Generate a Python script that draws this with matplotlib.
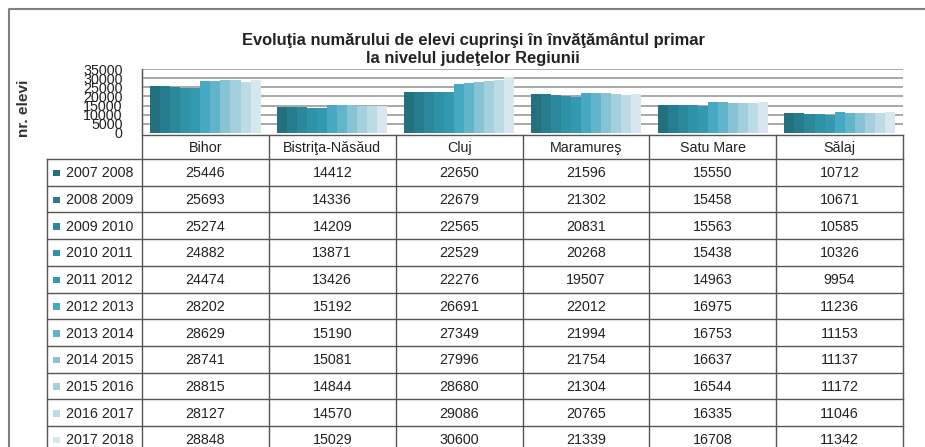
import matplotlib
matplotlib.use('Agg')
import matplotlib.pyplot as plt
from matplotlib import font_manager
import numpy as np

# data
judete = ['Bihor', 'Bistriţa-Năsăud', 'Cluj', 'Maramureş', 'Satu Mare', 'Sălaj']
ani = ['2007 2008', '2008 2009', '2009 2010', '2010 2011', '2011 2012', '2012 2013',
       '2013 2014', '2014 2015', '2015 2016', '2016 2017', '2017 2018']
v2007 = [25446, 14412, 22650, 21596, 15550, 10712]
v2008 = [25693, 14336, 22679, 21302, 15458, 10671]
v2009 = [25274, 14209, 22565, 20831, 15563, 10585]
v2010 = [24882, 13871, 22529, 20268, 15438, 10326]
v2011 = [24474, 13426, 22276, 19507, 14963, 9954]
v2012 = [28202, 15192, 26691, 22012, 16975, 11236]
v2013 = [28629, 15190, 27349, 21994, 16753, 11153]
v2014 = [28741, 15081, 27996, 21754, 16637, 11137]
v2015 = [28815, 14844, 28680, 21304, 16544, 11172]
v2016 = [28127, 14570, 29086, 20765, 16335, 11046]
v2017 = [28848, 15029, 30600, 21339, 16708, 11342]
serii = [v2007, v2008, v2009, v2010, v2011, v2012, v2013, v2014, v2015, v2016, v2017]
y_ticks = [0, 5000, 10000, 15000, 20000, 25000, 30000, 35000]

culori = ['#23707f', '#277d8e', '#2a889a', '#2e93a6', '#3399b0', '#46a8c2',
          '#62b4cb', '#85c3d5', '#a4d0de', '#bddbe6', '#d6e7ee']

names = {f.name for f in font_manager.fontManager.ttflist}
if 'Liberation Sans Narrow' in names:
    fam = 'Liberation Sans Narrow'
    k = 1.0
else:
    fam = 'Liberation Sans'
    k = 0.82
plt.rcParams['font.family'] = [fam, 'DejaVu Sans']

W, H = 925, 447
fig = plt.figure(figsize=(W / 100, H / 100), dpi=100)
fig.patch.set_facecolor('white')

# overlay in pixel coords
ov = fig.add_axes([0, 0, 1, 1])
ov.set_xlim(0, W)
ov.set_ylim(H, 0)
ov.axis('off')
ov.patch.set_alpha(0)

# outer frame
ov.plot([9, 9, W + 5], [H + 5, 9, 9], color='#7f7f7f', lw=1.5)

# title + y label
ov.text(473, 41, 'Evoluţia numărului de elevi cuprinşi în învăţământul primar',
        ha='center', va='center', fontsize=14.5 * k, fontweight='bold', color='#222222')
ov.text(473, 59, 'la nivelul judeţelor Regiunii',
        ha='center', va='center', fontsize=14.5 * k, fontweight='bold', color='#222222')
ov.text(24, 108, 'nr. elevi', rotation=90, ha='center', va='center',
        fontsize=13.5 * k, fontweight='bold', color='#333333')

# bar chart
x0, x1, ytop, ybot = 142, 903, 69, 133
ax = fig.add_axes([x0 / W, 1 - ybot / H, (x1 - x0) / W, (ybot - ytop) / H])
ax.set_xlim(-0.5, len(judete) - 0.5)
ax.set_ylim(0, 35000)
n = len(serii)
bw = (1 / 1.15) / n
x = np.arange(len(judete))
for j, s in enumerate(serii):
    ax.bar(x + (j - (n - 1) / 2) * bw, s, width=bw, color=culori[j], edgecolor='none', zorder=2)
for t in y_ticks[1:]:
    ax.axhline(t, color='#9a9a9a', lw=1.2, zorder=1)
ax.set_yticks(y_ticks)
ax.set_yticklabels([str(t) for t in y_ticks], fontsize=12.5 * k, color='#222222')
ax.tick_params(axis='y', length=0, pad=14)
ax.set_xticks([])
for sp in ['top', 'right', 'bottom']:
    ax.spines[sp].set_visible(False)
ax.spines['left'].set_color('#555555')
ax.patch.set_alpha(0)

# data table
lc = '#555555'
col_w = (x1 - x0) / len(judete)
hdr_top, row0, rh = 135, 159, 26.7
row_x0 = 47
ybottom = row0 + rh * len(ani)
# header
ov.plot([x0, x1], [hdr_top, hdr_top], color=lc, lw=1)
ov.plot([row_x0, x1], [row0, row0], color=lc, lw=1)
for i in range(len(judete) + 1):
    xx = x0 + i * col_w
    ov.plot([xx, xx], [hdr_top if i else ytop, ybottom], color=lc, lw=1)
ov.plot([row_x0, row_x0], [row0, ybottom], color=lc, lw=1)
for r in range(1, len(ani) + 1):
    yy = row0 + r * rh
    ov.plot([row_x0, x1], [yy, yy], color=lc, lw=1)
for i, jd in enumerate(judete):
    ov.text(x0 + (i + 0.5) * col_w, (hdr_top + row0) / 2 + 1, jd, ha='center', va='center',
            fontsize=12.5 * k, color='#222222')
for r, an in enumerate(ani):
    yc = row0 + (r + 0.5) * rh + 1
    ov.add_patch(plt.Rectangle((53, yc - 3.5), 6.5, 6.5, color=culori[r], lw=0))
    ov.text(66, yc, an, ha='left', va='center', fontsize=12.5 * k, color='#222222')
    for i in range(len(judete)):
        ov.text(x0 + (i + 0.5) * col_w, yc, str(serii[r][i]), ha='center', va='center',
                fontsize=12.5 * k, color='#222222')

fig.savefig('out.png', dpi=100)
